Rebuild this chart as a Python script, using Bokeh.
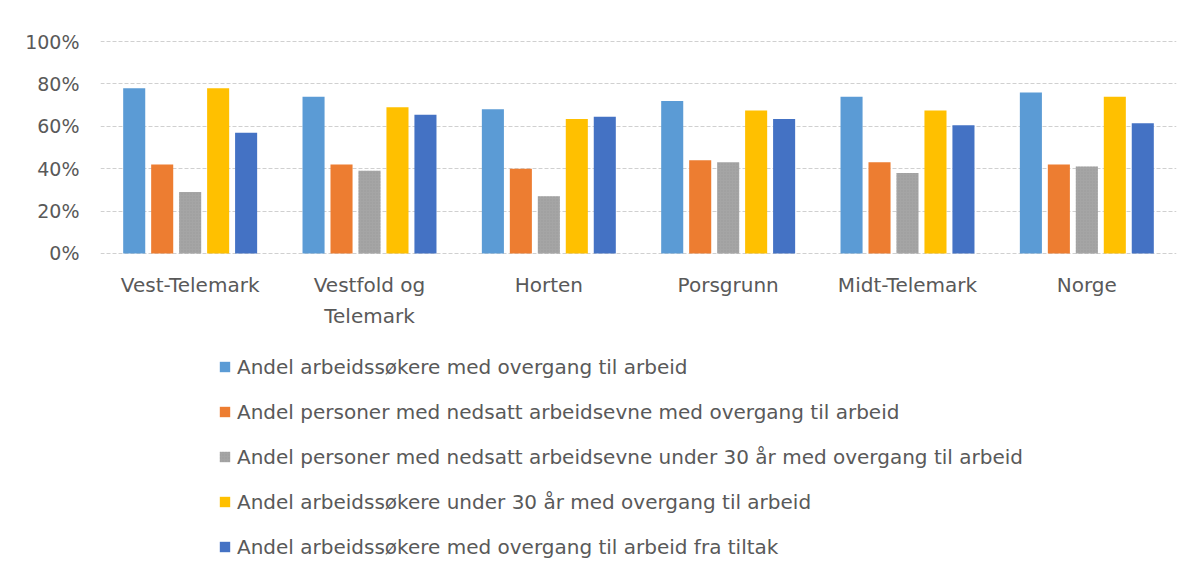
from bokeh.plotting import figure
from bokeh.models import ColumnDataSource, FactorRange, Range1d, Legend, LegendItem, NumeralTickFormatter, FixedTicker
from bokeh.transform import dodge
from bokeh.core.properties import value
from bokeh.embed import file_html
from bokeh.resources import INLINE

categories = ["Vest-Telemark", "Vestfold og\nTelemark", "Horten", "Porsgrunn", "Midt-Telemark", "Norge"]

series_names = [
    "Andel arbeidssøkere med overgang til arbeid",
    "Andel personer med nedsatt arbeidsevne med overgang til arbeid",
    "Andel personer med nedsatt arbeidsevne under 30 år med overgang til arbeid",
    "Andel arbeidssøkere under 30 år med overgang til arbeid",
    "Andel arbeidssøkere med overgang til arbeid fra tiltak",
]

arbeidssokere = [0.78, 0.74, 0.68, 0.72, 0.74, 0.76]
nedsatt = [0.42, 0.42, 0.40, 0.44, 0.43, 0.42]
nedsatt_u30 = [0.29, 0.39, 0.27, 0.43, 0.38, 0.41]
arbeidssokere_u30 = [0.78, 0.69, 0.635, 0.675, 0.675, 0.74]
fra_tiltak = [0.57, 0.655, 0.645, 0.635, 0.605, 0.615]

y_ticks = [0, 0.2, 0.4, 0.6, 0.8, 1.0]

colors = ["#5B9BD5", "#ED7D31", "#A5A5A5", "#FFC000", "#4472C4"]
keys = ["s0", "s1", "s2", "s3", "s4"]

source = ColumnDataSource(dict(cat=categories, s0=arbeidssokere, s1=nedsatt, s2=nedsatt_u30,
                               s3=arbeidssokere_u30, s4=fra_tiltak))

FONT = "DejaVu Sans"
TXT = "#595959"

# frame extends below the bars to host category labels and legend
p = figure(x_range=FactorRange(*categories, range_padding=0), y_range=Range1d(-1.463, 1.005),
           width=1181, height=563, output_backend="svg", toolbar_location=None,
           min_border_left=100, min_border_right=5, min_border_top=40, min_border_bottom=0)
p.outline_line_color = None

offsets = [-0.312, -0.156, 0.0, 0.156, 0.312]
renderers = []
for i, k in enumerate(keys):
    kw = {}
    if k == "s2":
        kw = dict(hatch_pattern="dot", hatch_color="#8f8f8f", hatch_scale=3, hatch_alpha=0.6)
    r = p.vbar(x=dodge("cat", offsets[i], range=p.x_range), top=k, width=0.123, bottom=0,
               source=source, fill_color=colors[i], line_color=None, **kw)
    renderers.append(r)

# category labels
p.text(x=categories, y=[-0.092] * len(categories), text=categories,
       text_align="center", text_baseline="top", text_font=value(FONT),
       text_font_size="20px", text_color=TXT, text_line_height=1.3)

p.xaxis.visible = False
yax = p.yaxis[0]
yax.ticker = FixedTicker(ticks=y_ticks)
yax.formatter = NumeralTickFormatter(format="0%")
yax.axis_line_color = None
yax.major_tick_line_color = None
yax.minor_tick_line_color = None
yax.major_label_text_font = FONT
yax.major_label_text_font_size = "19px"
yax.major_label_text_color = TXT
yax.major_label_standoff = 15

p.xgrid.grid_line_color = None
p.ygrid.grid_line_color = "#d0d0d0"
p.ygrid.grid_line_dash = "4 2"
p.ygrid.grid_line_width = 1

items = [LegendItem(label=series_names[i], renderers=[renderers[i]]) for i in range(5)]
legend = Legend(items=items, orientation="vertical", location=(118, 4))
legend.label_text_font = FONT
legend.label_text_font_size = "20px"
legend.label_text_color = TXT
legend.glyph_width = 13
legend.glyph_height = 13
legend.label_height = 25
legend.label_standoff = 6
legend.spacing = 20
legend.padding = 0
legend.margin = 0
legend.border_line_color = None
legend.background_fill_alpha = 0
p.add_layout(legend, "center")

open("out.html", "w").write(file_html(p, INLINE))
